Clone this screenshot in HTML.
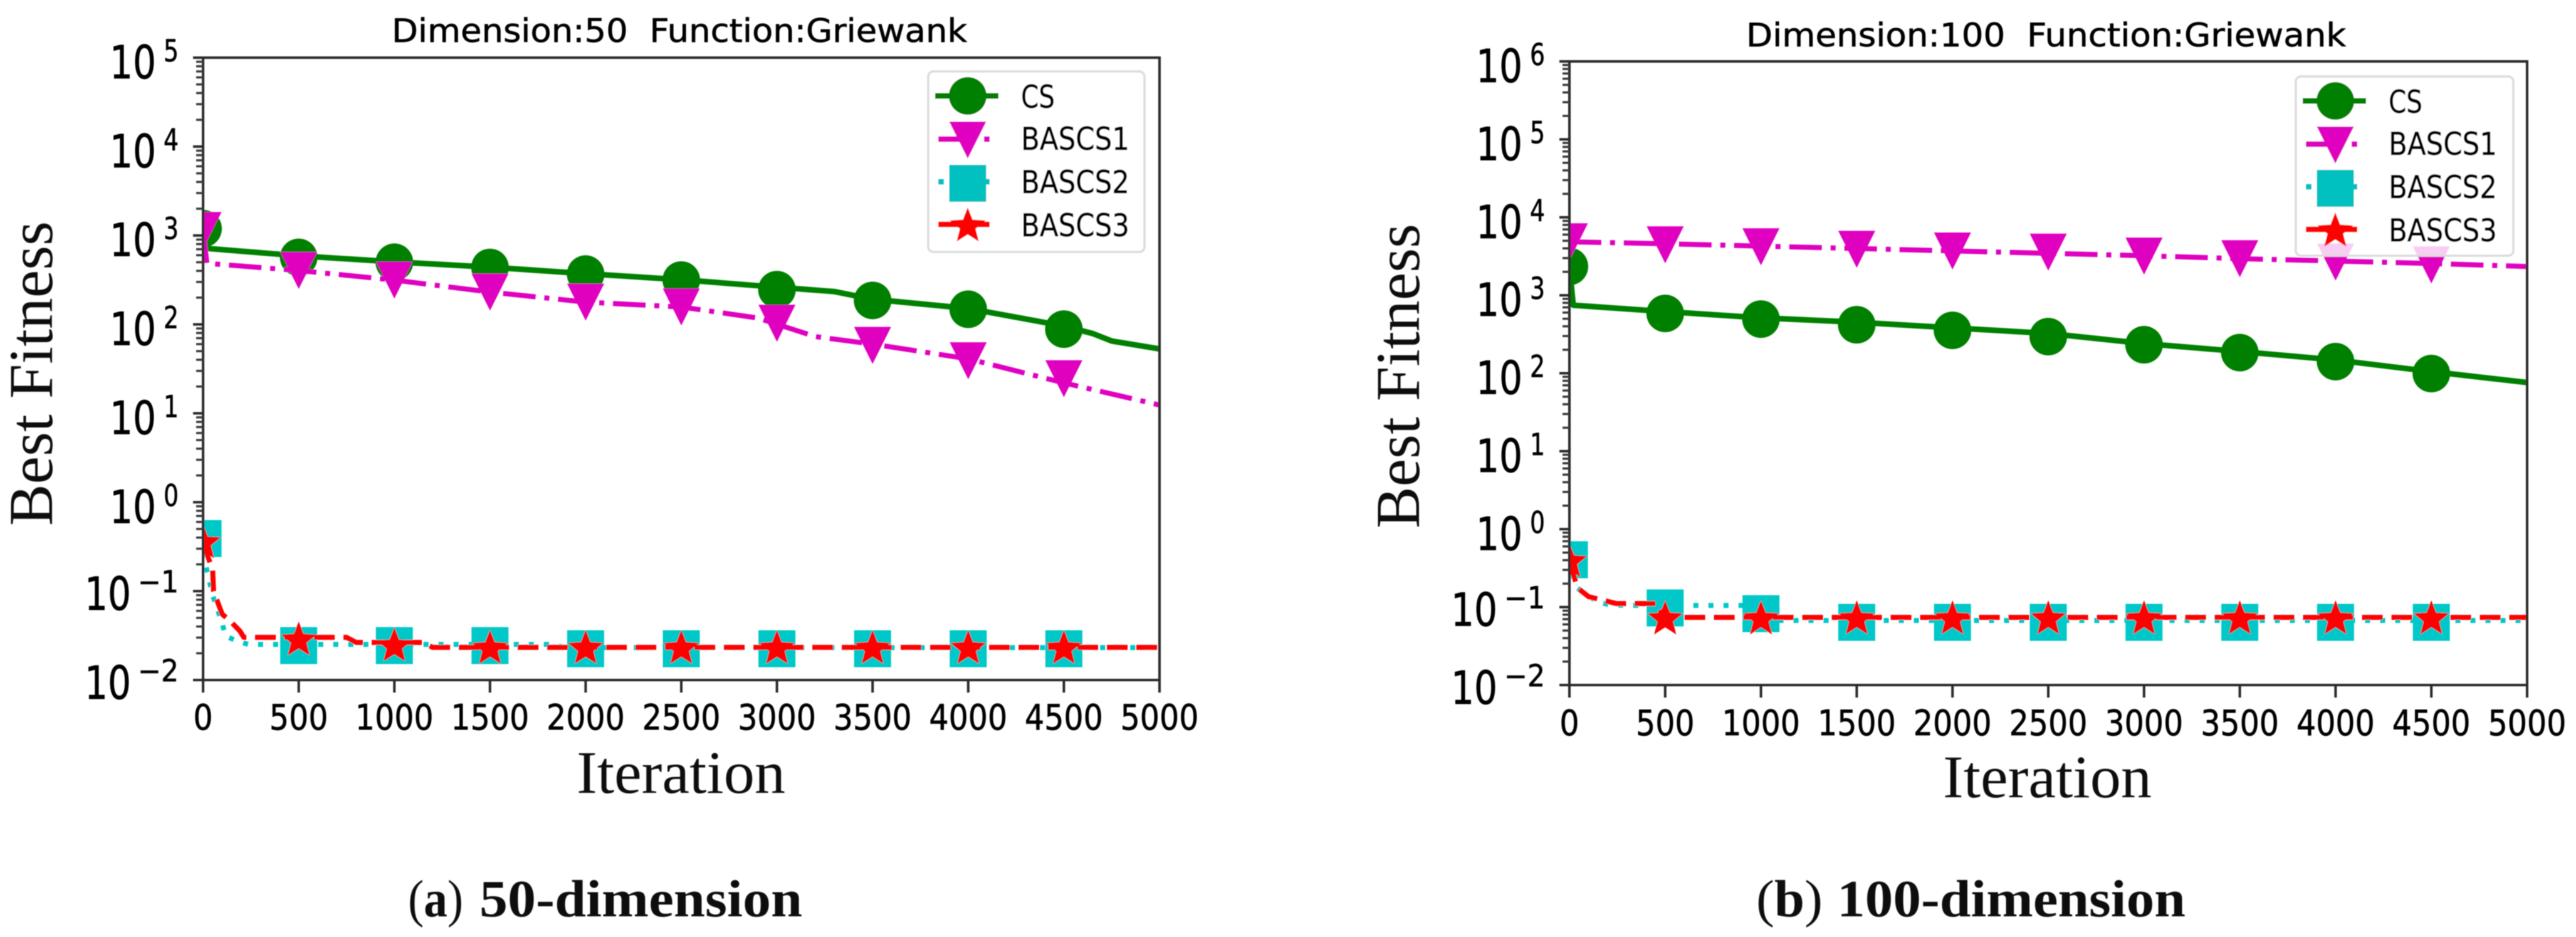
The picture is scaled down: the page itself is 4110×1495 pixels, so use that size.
<!DOCTYPE html>
<html lang="en">
<head>
<meta charset="utf-8">
<title>Griewank convergence curves</title>
<style>
  html, body { margin: 0; padding: 0; background: #fff; }
  #figure { display: block; width: 4110px; height: 1495px; background: #fff; }
  .sans { font-family: "DejaVu Sans", "Liberation Sans", sans-serif; fill: #000; stroke: #000; stroke-width: 0.7px; }
  .serif { font-family: "Liberation Serif", serif; fill: #111; }
  .pre { white-space: pre; }
</style>
</head>
<body>
<svg id="figure" xmlns="http://www.w3.org/2000/svg" width="4110" height="1495" viewBox="0 0 4110 1495">
  <defs>
    <filter id="soft" x="-2%" y="-2%" width="104%" height="104%"><feGaussianBlur stdDeviation="0.7"/></filter>
    <clipPath id="clip-a"><rect x="324" y="92" width="1526" height="993"/></clipPath>
    <clipPath id="clip-b"><rect x="2504" y="98" width="1528" height="995"/></clipPath>
  </defs>
  <rect width="4110" height="1495" fill="#fff"/>

  <g id="panel-a" filter="url(#soft)">
    <text class="sans pre" x="625" y="67" font-size="52" textLength="918" lengthAdjust="spacingAndGlyphs">Dimension:50  Function:Griewank</text>
    <text class="serif" transform="translate(83,839) rotate(-90)" font-size="100" textLength="486" lengthAdjust="spacingAndGlyphs">Best Fitness</text>
    <text class="serif" x="920" y="1265" font-size="96" textLength="333" lengthAdjust="spacingAndGlyphs">Iteration</text>
    <g id="marks-a" clip-path="url(#clip-a)"></g>
    <g id="axes-a"></g>
    <g id="legend-a" transform="translate(1481,114)">
      <rect x="0" y="0" width="345" height="288" rx="8" fill="#fff" fill-opacity="0.8" stroke="#dcdcdc" stroke-width="3.5"/>
      <g>
        <line x1="11" x2="112" y1="39" y2="39" stroke="#008000" stroke-width="9"/>
        <circle cx="63" cy="39" r="30" fill="#008000"/>
        <text class="sans" x="148" y="58" font-size="50" textLength="54" lengthAdjust="spacingAndGlyphs">CS</text>
      </g>
      <g>
        <line x1="16" x2="98" y1="108" y2="108" stroke="#e000c0" stroke-width="9" stroke-dasharray="52 21 9 100"/>
        <polygon points="33.5,80 92.5,80 63,139" fill="#e000c0"/>
        <text class="sans" x="148" y="125" font-size="50" textLength="173" lengthAdjust="spacingAndGlyphs">BASCS1</text>
      </g>
      <g>
        <line x1="16" x2="98" y1="176" y2="176" stroke="#00c0c0" stroke-width="9" stroke-dasharray="9 64 9 100"/>
        <rect x="33.5" y="149" width="59" height="59" fill="#00c0c0"/>
        <text class="sans" x="148" y="194" font-size="50" textLength="173" lengthAdjust="spacingAndGlyphs">BASCS2</text>
      </g>
      <g>
        <line x1="16" x2="98" y1="244" y2="244" stroke="#ff0000" stroke-width="9"/>
        <polygon points="63,217 70.6,236.5 91.5,237.7 75.4,251 80.6,271.3 63,260 45.4,271.3 50.6,251 34.5,237.7 55.4,236.5" fill="#ff0000"/>
        <text class="sans" x="148" y="263" font-size="50" textLength="173" lengthAdjust="spacingAndGlyphs">BASCS3</text>
      </g>
    </g>
    <text class="serif" x="651" y="1462" font-size="84" textLength="88" lengthAdjust="spacingAndGlyphs">(<tspan font-weight="700">a</tspan>)</text>
    <text class="serif" x="765" y="1462" font-size="84" font-weight="700" textLength="515" lengthAdjust="spacingAndGlyphs">50-dimension</text>
  </g>

  <g id="panel-b" filter="url(#soft)">
    <text class="sans pre" x="2786" y="74" font-size="52" textLength="957" lengthAdjust="spacingAndGlyphs">Dimension:100  Function:Griewank</text>
    <text class="serif" transform="translate(2264,843) rotate(-90)" font-size="100" textLength="486" lengthAdjust="spacingAndGlyphs">Best Fitness</text>
    <text class="serif" x="3100" y="1272" font-size="96" textLength="333" lengthAdjust="spacingAndGlyphs">Iteration</text>
    <g id="marks-b" clip-path="url(#clip-b)"></g>
    <g id="axes-b"></g>
    <g id="legend-b" transform="translate(3663,122)">
      <rect x="0" y="0" width="347" height="286" rx="8" fill="#fff" fill-opacity="0.8" stroke="#dcdcdc" stroke-width="3.5"/>
      <g>
        <line x1="11" x2="112" y1="39" y2="39" stroke="#008000" stroke-width="9"/>
        <circle cx="63" cy="39" r="30" fill="#008000"/>
        <text class="sans" x="148" y="58" font-size="50" textLength="54" lengthAdjust="spacingAndGlyphs">CS</text>
      </g>
      <g>
        <line x1="16" x2="98" y1="108" y2="108" stroke="#e000c0" stroke-width="9" stroke-dasharray="52 21 9 100"/>
        <polygon points="33.5,80 92.5,80 63,139" fill="#e000c0"/>
        <text class="sans" x="148" y="125" font-size="50" textLength="173" lengthAdjust="spacingAndGlyphs">BASCS1</text>
      </g>
      <g>
        <line x1="16" x2="98" y1="176" y2="176" stroke="#00c0c0" stroke-width="9" stroke-dasharray="9 64 9 100"/>
        <rect x="33.5" y="149" width="59" height="59" fill="#00c0c0"/>
        <text class="sans" x="148" y="194" font-size="50" textLength="173" lengthAdjust="spacingAndGlyphs">BASCS2</text>
      </g>
      <g>
        <line x1="16" x2="98" y1="244" y2="244" stroke="#ff0000" stroke-width="9"/>
        <polygon points="63,217 70.6,236.5 91.5,237.7 75.4,251 80.6,271.3 63,260 45.4,271.3 50.6,251 34.5,237.7 55.4,236.5" fill="#ff0000"/>
        <text class="sans" x="148" y="263" font-size="50" textLength="173" lengthAdjust="spacingAndGlyphs">BASCS3</text>
      </g>
    </g>
    <text class="serif" x="2802" y="1462" font-size="84" textLength="106" lengthAdjust="spacingAndGlyphs">(<tspan font-weight="700">b</tspan>)</text>
    <text class="serif" x="2931" y="1462" font-size="84" font-weight="700" textLength="556" lengthAdjust="spacingAndGlyphs">100-dimension</text>
  </g>
</svg>

<script>
// ---- shared axis data ----
const iterationTicks = [0, 500, 1000, 1500, 2000, 2500, 3000, 3500, 4000, 4500, 5000];
const markerIterations = [0, 500, 1000, 1500, 2000, 2500, 3000, 3500, 4000, 4500];
const minorMultipliers = [2, 3, 4, 5, 6, 7, 8, 9];
const exponentsA = [-2, -1, 0, 1, 2, 3, 4, 5];
const exponentsB = [-2, -1, 0, 1, 2, 3, 4, 5, 6];

// ---- panel (a): 50 dimensions ----
const csIterA = [0, 20, 500, 1000, 1500, 2000, 2500, 3000, 3300, 3500, 4000, 4500, 4650, 4750, 5000];
const csLineA = [1190, 716, 590, 505, 440, 372, 318, 262, 234, 192, 151, 96, 79, 65, 53];
const csMarkA = [1194, 567, 500, 437, 368, 315, 246, 186, 148, 88.5];

const bascs1IterA = [0, 20, 500, 1000, 1500, 2000, 2500, 2900, 3200, 3500, 4000, 4500, 5000];
const bascs1LineA = [1138, 486, 404, 315, 231, 178, 157, 118, 73, 60, 41, 22, 12.4];
const bascs1MarkA = [1138, 404, 315, 231, 178, 157, 103, 58, 39, 24.5];

const bascs2IterA = [0, 16, 52, 98, 118, 177, 236, 1800, 1900, 5000];
const bascs2LineA = [0.4, 0.186, 0.087, 0.0447, 0.0312, 0.0275, 0.0252, 0.0252, 0.0232, 0.0232];
const bascs2MarkA = [0.39, 0.0244, 0.0244, 0.0244, 0.0225, 0.0225, 0.0225, 0.0225, 0.0225, 0.0225];

const bascs3IterA = [0, 50, 55, 100, 134, 193, 213, 750, 800, 1150, 1200, 5000];
const bascs3LineA = [0.35, 0.172, 0.1, 0.055, 0.048, 0.0355, 0.0302, 0.0302, 0.0265, 0.0265, 0.0233, 0.0233];
const bascs3MarkA = [0.347, 0.0279, 0.024, 0.0225, 0.0225, 0.0225, 0.0225, 0.0225, 0.0225, 0.0225];

// ---- panel (b): 100 dimensions ----
const csIterB = [0, 20, 500, 1000, 1500, 2000, 2500, 3000, 3500, 4000, 4500, 5000];
const csLineB = [2344, 745, 618, 514, 451, 382, 324, 240, 190, 148, 105, 76];
const csMarkB = [2344, 585, 495, 419, 355, 295, 232, 184, 141, 99];

const bascs1IterB = [0, 50, 500, 1000, 1500, 2000, 2500, 3000, 3500, 4000, 4500, 5000];
const bascs1LineB = [5400, 4830, 4580, 4270, 3980, 3710, 3450, 3220, 2950, 2750, 2560, 2340];
const bascs1MarkB = [4860, 4435, 4190, 3890, 3700, 3580, 3184, 2950, 2668, 2455];

const bascs2IterB = [0, 36, 145, 210, 300, 1000, 1100, 5000];
const bascs2LineB = [0.405, 0.179, 0.117, 0.107, 0.105, 0.105, 0.0673, 0.0673];
const bascs2MarkB = [0.405, 0.0975, 0.0824, 0.0637, 0.0637, 0.0637, 0.0637, 0.0637, 0.0637, 0.0637];

const bascs3IterB = [0, 43, 100, 245, 460, 490, 5000];
const bascs3LineB = [0.38, 0.176, 0.136, 0.111, 0.111, 0.0738, 0.0738];
const bascs3MarkB = [0.38, 0.07, 0.07, 0.07, 0.07, 0.07, 0.07, 0.07, 0.07, 0.07];

const NS = 'http://www.w3.org/2000/svg';
const AXIS_COLOR = '#2a2a2a';

function make(tag, parent) {
  const el = document.createElementNS(NS, tag);
  parent.appendChild(el);
  return el;
}

function drawPanel(panel) {
  const marks = document.getElementById(panel.marksId);
  const axes = document.getElementById(panel.axesId);
  const minExp = panel.exponents[0];
  const maxExp = panel.exponents[panel.exponents.length - 1];
  const xScale = function (it) {
    return panel.left + (it / 5000) * (panel.right - panel.left);
  };
  const yScale = function (v) {
    return panel.bottom - (Math.log10(v) - minExp) * (panel.bottom - panel.top) / (maxExp - minExp);
  };

  panel.series.forEach(function (s) {
    const d = s.iter.map(function (it, i) {
      return (i ? 'L' : 'M') + xScale(it).toFixed(1) + ' ' + yScale(s.line[i]).toFixed(1);
    }).join('');
    const path = make('path', marks);
    
    
    path.setAttribute('d', d);
    path.setAttribute('fill', 'none');
    path.setAttribute('stroke', s.color);
    path.setAttribute('stroke-width', s.width);
    path.setAttribute('stroke-linejoin', 'round');
    if (s.dash) path.setAttribute('stroke-dasharray', s.dash);

    markerIterations.forEach(function (it, i) {
      const cx = xScale(it);
      const cy = yScale(s.mark[i]);
      let m;
      if (s.shape === 'circle') {
        m = make('circle', marks);
        m.setAttribute('cx', cx);
        m.setAttribute('cy', cy);
        m.setAttribute('r', 30);
      } else if (s.shape === 'square') {
        m = make('rect', marks);
        m.setAttribute('x', cx - 29.5);
        m.setAttribute('y', cy - 29.5);
        m.setAttribute('width', 59);
        m.setAttribute('height', 59);
      } else if (s.shape === 'triangle') {
        m = make('polygon', marks);
        m.setAttribute('points', (cx - 29.5) + ',' + (cy - 29.5) + ' ' + (cx + 29.5) + ',' + (cy - 29.5) + ' ' + cx + ',' + (cy + 29.5));
      } else {
        m = make('polygon', marks);
        const pts = [];
        for (let k = 0; k < 10; k++) {
          const r = k % 2 ? 13 : 30;
          const a = -Math.PI / 2 + k * Math.PI / 5;
          pts.push((cx + r * Math.cos(a)).toFixed(1) + ',' + (cy + r * Math.sin(a)).toFixed(1));
        }
        m.setAttribute('points', pts.join(' '));
      }
      
      
      m.setAttribute('fill', s.color);
    });
  });

  // spines
  const spine = make('rect', axes);
  
  
  spine.setAttribute('x', panel.left);
  spine.setAttribute('y', panel.top);
  spine.setAttribute('width', panel.right - panel.left);
  spine.setAttribute('height', panel.bottom - panel.top);
  spine.setAttribute('fill', 'none');
  spine.setAttribute('stroke', AXIS_COLOR);
  spine.setAttribute('stroke-width', 4);

  // x ticks and labels
  iterationTicks.forEach(function (t) {
    const x = xScale(t);
    const tick = make('line', axes);
    
    
    tick.setAttribute('x1', x);
    tick.setAttribute('x2', x);
    tick.setAttribute('y1', panel.bottom);
    tick.setAttribute('y2', panel.bottom + 20);
    tick.setAttribute('stroke', AXIS_COLOR);
    tick.setAttribute('stroke-width', 4);

    const label = make('text', axes);
    
    
    const str = String(t);
    const w = str.length * 31.2;
    label.setAttribute('class', 'sans');
    label.setAttribute('x', x - w / 2);
    label.setAttribute('y', panel.bottom + panel.xLabelDrop);
    label.setAttribute('font-size', 56);
    label.setAttribute('textLength', w);
    label.setAttribute('lengthAdjust', 'spacingAndGlyphs');
    label.textContent = str;
  });

  // y ticks and labels
  panel.exponents.forEach(function (e) {
    const y = yScale(Math.pow(10, e));
    const tick = make('line', axes);
    
    
    tick.setAttribute('x1', panel.left - 16);
    tick.setAttribute('x2', panel.left);
    tick.setAttribute('y1', y);
    tick.setAttribute('y2', y);
    tick.setAttribute('stroke', AXIS_COLOR);
    tick.setAttribute('stroke-width', 4);

    if (e < maxExp) {
      minorMultipliers.forEach(function (mult) {
        const my = yScale(mult * Math.pow(10, e));
        const minor = make('line', axes);
        
        
        minor.setAttribute('x1', panel.left - 11);
        minor.setAttribute('x2', panel.left);
        minor.setAttribute('y1', my);
        minor.setAttribute('y2', my);
        minor.setAttribute('stroke', '#3a3a3a');
        minor.setAttribute('stroke-width', 3.5);
      });
    }

    const neg = e < 0;
    const right = panel.left - 39;
    const baseY = y + (neg ? 30 : 33);
    const group = make('g', axes);
    
    

    const base = make('text', group);
    
    
    base.setAttribute('class', 'sans');
    base.setAttribute('x', right - (neg ? 150 : 110));
    base.setAttribute('y', baseY);
    base.setAttribute('font-size', 73);
    base.setAttribute('textLength', 74);
    base.setAttribute('lengthAdjust', 'spacingAndGlyphs');
    base.textContent = '10';

    const sup = make('text', group);
    
    
    sup.setAttribute('class', 'sans');
    const supStr = neg ? '\u2212' + Math.abs(e) : String(e);
    const supW = neg ? 65 : 24;
    sup.setAttribute('x', right - supW);
    sup.setAttribute('y', y + (neg ? 2 : 6));
    sup.setAttribute('font-size', 48);
    sup.setAttribute('textLength', supW);
    sup.setAttribute('lengthAdjust', 'spacingAndGlyphs');
    sup.textContent = supStr;
  });
}

drawPanel({
  marksId: 'marks-a', axesId: 'axes-a',
  left: 324, right: 1850, top: 92, bottom: 1085,
  exponents: exponentsA, xLabelDrop: 79,
  series: [
    { name: 'cs', color: '#008000', width: 9, shape: 'circle', iter: csIterA, line: csLineA, mark: csMarkA },
    { name: 'bascs1', color: '#e000c0', width: 8, dash: '52 14 8 14', shape: 'triangle', iter: bascs1IterA, line: bascs1LineA, mark: bascs1MarkA },
    { name: 'bascs2', color: '#00c8c8', width: 8, dash: '8 16', shape: 'square', iter: bascs2IterA, line: bascs2LineA, mark: bascs2MarkA },
    { name: 'bascs3', color: '#ff0000', width: 8, dash: '33 14', shape: 'star', iter: bascs3IterA, line: bascs3LineA, mark: bascs3MarkA }
  ]
});

drawPanel({
  marksId: 'marks-b', axesId: 'axes-b',
  left: 2504, right: 4032, top: 98, bottom: 1093,
  exponents: exponentsB, xLabelDrop: 80,
  series: [
    { name: 'cs', color: '#008000', width: 9, shape: 'circle', iter: csIterB, line: csLineB, mark: csMarkB },
    { name: 'bascs1', color: '#e000c0', width: 8, dash: '52 14 8 14', shape: 'triangle', iter: bascs1IterB, line: bascs1LineB, mark: bascs1MarkB },
    { name: 'bascs2', color: '#00c8c8', width: 8, dash: '8 16', shape: 'square', iter: bascs2IterB, line: bascs2LineB, mark: bascs2MarkB },
    { name: 'bascs3', color: '#ff0000', width: 8, dash: '33 14', shape: 'star', iter: bascs3IterB, line: bascs3LineB, mark: bascs3MarkB }
  ]
});
</script>
</body>
</html>
